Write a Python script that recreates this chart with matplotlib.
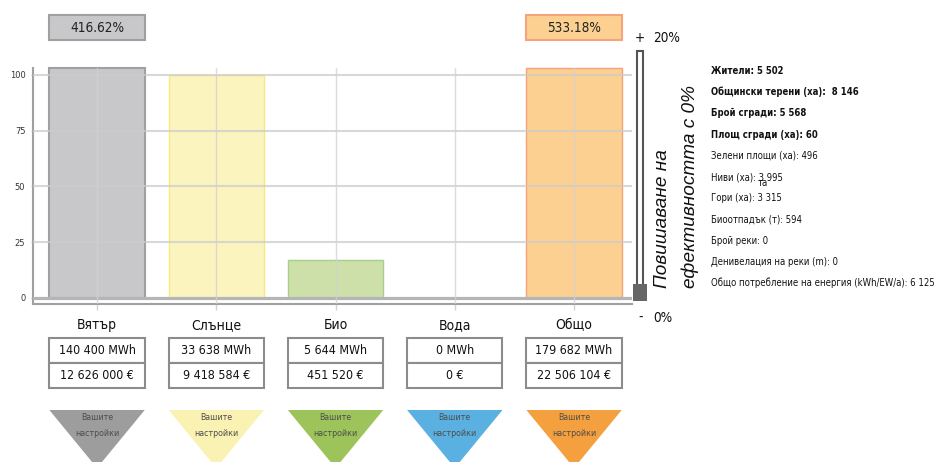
import matplotlib
matplotlib.use('Agg')
import matplotlib.pyplot as plt
import matplotlib.transforms as mtransforms
from matplotlib import font_manager
from matplotlib.patches import Rectangle, Polygon
import numpy as np

# ---------------------------------------------------------------------------
# data
# ---------------------------------------------------------------------------
categories = ['Вятър', 'Слънце', 'Био', 'Вода', 'Общо']
share_pct = [416.62, 100, 17, 0, 533.18]
energy_mwh = [140400, 33638, 5644, 0, 179682]
cost_eur = [12626000, 9418584, 451520, 0, 22506104]
y_ticks = [0, 25, 50, 75, 100]

bar_fill = ['#c8c7c9', '#fbf4bf', '#cde0a9', '#bfe0f2', '#fcd090']
bar_edge = ['#a0a0a0', '#f6ea7e', '#a9cf8b', '#8ec6e6', '#f5a27f']
tri_color = ['#9d9d9e', '#faf2b2', '#9dc45a', '#5ab0e0', '#f4a03e']

info_lines = [
    ('Жители: 5 502', True),
    ('Общински терени (ха):  8 146', True),
    ('Брой сгради: 5 568', True),
    ('Площ сгради (ха): 60', True),
    ('Зелени площи (ха): 496', False),
    ('Ниви (ха): 3 995', False),
    ('Гори (ха): 3 315', False),
    ('Биоотпадък (т): 594', False),
    ('Брой реки: 0', False),
    ('Денивелация на реки (m): 0', False),
    ('Общо потребление на енергия (kWh/EW/a): 6 125', False),
]
efficiency_pct = 0
slider_max = 20

# the original uses a condensed face; take one if the box has it
family, stretch = 'Liberation Sans', 'normal'
for f in font_manager.fontManager.ttflist:
    if 'Narrow' in f.name or 'Condensed' in f.name:
        family, stretch = f.name, 'normal'
        break
    if f.stretch in ('condensed', 'semi-condensed', 'extra-condensed'):
        family, stretch = f.name, f.stretch
        break
plt.rcParams['font.family'] = [family, 'DejaVu Sans']
plt.rcParams['font.stretch'] = stretch

W, H = 938, 462


def fy(py):
    return 1 - py / H


def fmt(v):
    return f'{v:,}'.replace(',', ' ')


fig = plt.figure(figsize=(W / 100, H / 100), dpi=100)
fig.patch.set_facecolor('white')

y_top = 103
ax = fig.add_axes([33 / W, fy(304), (632 - 33) / W, (304 - 68.3) / H])
ax.set_xlim(-0.537, 4.486)
ax.set_ylim(-2.7, y_top)

x = np.arange(len(categories))
heights = np.minimum(share_pct, y_top)
for i in x:
    lw = 1.5 if i == 0 else 1.0
    ax.bar(i, heights[i], width=0.8, color=bar_fill[i], edgecolor=bar_edge[i],
           linewidth=lw, zorder=1, clip_on=False)

# grid on top of the bars
for t in y_ticks[1:]:
    ax.axhline(t, color='#cccccc', lw=1.5, alpha=0.75, zorder=3)
ax.axhline(0, color='#b5b5b5', lw=2.3, zorder=3)
for i in x:
    ax.axvline(i, color='#d2d2d2', lw=1.0, alpha=0.8, zorder=3)

ax.set_xticks(x)
ax.set_xticklabels([])
ax.tick_params(axis='x', length=4.5, width=1.0, color='#d2d2d2', direction='out')
ax.set_yticks(y_ticks)
ax.set_yticklabels([str(t) for t in y_ticks], fontsize=7, color='#333333')
ax.tick_params(axis='y', length=1.5, width=1.0, color='#cccccc', pad=4)

for side in ['top', 'right']:
    ax.spines[side].set_visible(False)
for side in ['left', 'bottom']:
    ax.spines[side].set_color('#a0a0a0')
    ax.spines[side].set_linewidth(1.5)

blend = mtransforms.blended_transform_factory(ax.transData, fig.transFigure)

# percentage boxes above bars that go off the scale
pct_texts = []
for i in x:
    if share_pct[i] > y_top:
        ax.add_patch(Rectangle((i - 0.4, fy(40)), 0.8, 25 / H, transform=blend,
                               facecolor=bar_fill[i], edgecolor=bar_edge[i],
                               lw=1.5, clip_on=False))
        pct_texts.append(ax.text(i, fy(27.5), f'{share_pct[i]:.2f}%',
                                 transform=blend, ha='center', va='center',
                                 fontsize=11, color='#222222'))

# labels, value boxes and triangles under the chart
cat_texts, box_texts, tri_texts = [], [], []
for i in x:
    cat_texts.append(ax.text(i, fy(325), categories[i], transform=blend,
                             ha='center', va='center', fontsize=12,
                             color='#111111'))
    for top, txt in [(338, f'{fmt(energy_mwh[i])} MWh'),
                     (363, f'{fmt(cost_eur[i])} €')]:
        ax.add_patch(Rectangle((i - 0.4, fy(top + 25)), 0.8, 25 / H,
                               transform=blend, facecolor='white',
                               edgecolor='#8c8c8c', lw=1.5, clip_on=False))
        box_texts.append(ax.text(i, fy(top + 12.5), txt, transform=blend,
                                 ha='center', va='center', fontsize=10,
                                 color='#111111'))
    ax.add_patch(Polygon([(i - 0.4, fy(410)), (i + 0.4, fy(410)), (i, fy(468))],
                         closed=True, transform=blend, facecolor=tri_color[i],
                         edgecolor='none', clip_on=False))
    tri_texts.append(ax.text(i, fy(418), 'Вашите', transform=blend,
                             ha='center', va='center', fontsize=6.5,
                             color='#4d4d4d'))
    tri_texts.append(ax.text(i, fy(433), 'настройки', transform=blend,
                             ha='center', va='center', fontsize=6.5,
                             color='#4d4d4d'))

# efficiency slider
fig.patches.append(Rectangle((637 / W, fy(298)), 6 / W, (298 - 51) / H,
                             transform=fig.transFigure, facecolor='white',
                             edgecolor='#555555', lw=1.5))
fig.patches.append(Rectangle((633 / W, fy(301)), 14 / W, 17 / H,
                             transform=fig.transFigure, facecolor='#666666',
                             edgecolor='none'))
slider_texts = [
    fig.text(640 / W, fy(38), '+', ha='center', va='center', fontsize=12,
             color='#111111'),
    fig.text(653 / W, fy(38), f'{slider_max}%', ha='left', va='center',
             fontsize=12, color='#111111'),
    fig.text(641 / W, fy(318), '-', ha='center', va='center', fontsize=12,
             color='#111111'),
    fig.text(653 / W, fy(318), f'{efficiency_pct}%', ha='left', va='center',
             fontsize=12, color='#111111'),
]

rot_texts = [
    fig.text(662 / W, fy(288), 'Повишаване на', rotation=90, ha='center',
             va='bottom', fontsize=14, style='italic', family='Liberation Sans',
             stretch='normal', color='#111111'),
    fig.text(690 / W, fy(288), f'ефективността с {efficiency_pct}%',
             rotation=90, ha='center', va='bottom', fontsize=14,
             style='italic', family='Liberation Sans', stretch='normal',
             color='#111111'),
]

# info list
info_texts = []
for k, (txt, bold) in enumerate(info_lines):
    info_texts.append(fig.text(711 / W, fy(71 + k * 21.2), txt, ha='left',
                               va='center', fontsize=8.5,
                               fontweight='bold' if bold else 'normal',
                               color='#111111'))
info_texts.append(fig.text(763 / W, fy(183), 'та', ha='center', va='center',
                           fontsize=8.5, color='#111111'))

# scale each group of texts so its reference item has the width seen in the
# original picture
fig.canvas.draw()
renderer = fig.canvas.get_renderer()


def fit(group, ref, target, vertical=False):
    box = ref.get_window_extent(renderer)
    size = box.height if vertical else box.width
    k = target / size
    for t in group:
        t.set_fontsize(t.get_fontsize() * k)


fit(info_texts, info_texts[10], 224)
fit(box_texts, box_texts[0], 77)
fit(cat_texts, cat_texts[1], 50)
fit(pct_texts, pct_texts[0], 54)
fit(tri_texts, tri_texts[1], 44)
fit(slider_texts, slider_texts[1], 27)
fit(rot_texts, rot_texts[1], 203, vertical=True)
ytl = ax.get_yticklabels()
fit(ytl, ytl[-1], 16)

fig.savefig('out.png', dpi=100, facecolor='white')
